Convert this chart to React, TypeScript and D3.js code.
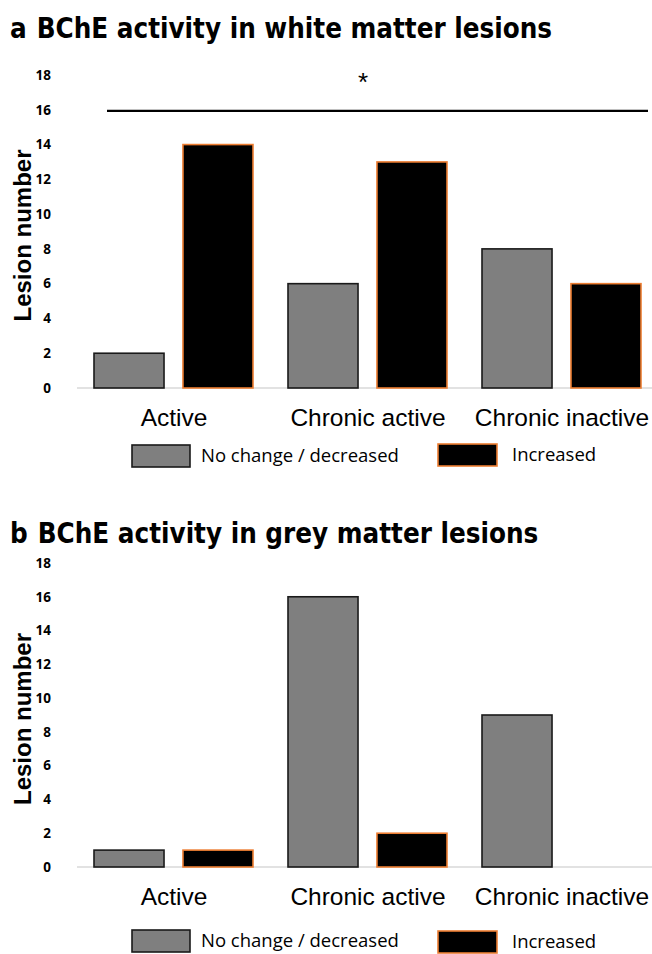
import React from "react";
import * as d3 from "d3";

const categories = ["Active", "Chronic active", "Chronic inactive"];
const seriesNames = ["No change / decreased", "Increased"];
const whiteNoChange = [2, 6, 8];
const whiteIncreased = [14, 13, 6];
const greyNoChange = [1, 16, 9];
const greyIncreased = [1, 2, 0];
const yTicks = [0, 2, 4, 6, 8, 10, 12, 14, 16, 18];

const W = 652;
const H = 954;

const fills = ["#7f7f7f", "#000000"];
const strokes = ["#1a1a1a", "#ed7d31"];

const titleFont = '"Liberation Sans Narrow", "DejaVu Sans Condensed", Arial, sans-serif';
const armFont = '"Liberation Sans", Arial, sans-serif';
const calFont = '"Open Sans", "Noto Sans", sans-serif';

type PanelProps = {
  letter: string;
  title: string;
  titleY: number;
  y0: number;
  y18: number;
  noChange: number[];
  increased: number[];
  legendY: number[];
  showSig?: boolean;
};

function Panel(props: PanelProps) {
  const {letter, title, titleY, y0, y18, noChange, increased, legendY, showSig} = props;

  const x = d3.scaleBand().domain(categories).range([77, 659]);
  const inner = d3.scaleBand().domain(seriesNames).range([17, 176]).paddingInner(0.213);
  const y = d3.scaleLinear().domain([0, 18]).range([y0, y18]);

  const rows = categories.map((c, i) => ({cat: c, vals: [noChange[i], increased[i]]}));

  return (
    <g>
      <text x={10} y={titleY} fontFamily={titleFont} fontWeight="bold" fontSize={27.5} fill="#000">
        {letter}
        <tspan dx={10}>{title}</tspan>
      </text>

      {yTicks.map(t => (
        <text key={t} x={51} y={y(t)} dy="0.35em" textAnchor="end" fontFamily={calFont}
              fontWeight="bold" fontSize={13.5} fill="#000">{t}</text>
      ))}

      <text transform={`translate(31,${(y0 + y18) / 2 + 4}) rotate(-90)`} textAnchor="middle"
            fontFamily={armFont} fontWeight="bold" fontSize={24} fill="#000">Lesion number</text>

      <line x1={77} x2={W} y1={y(0)} y2={y(0)} stroke="#d9d9d9" strokeWidth={1.5} />

      {rows.map(r => (
        <g key={r.cat} transform={`translate(${x(r.cat)},0)`}>
          {r.vals.map((v, j) => v > 0 ? (
            <rect key={j} x={inner(seriesNames[j])} y={y(v)} width={inner.bandwidth()}
                  height={y(0) - y(v)} fill={fills[j]} stroke={strokes[j]} strokeWidth={1.6} />
          ) : null)}
          <text x={x.bandwidth() / 2} y={y(0) + 38} textAnchor="middle" fontFamily={armFont}
                fontSize={24.5} fill="#000">{r.cat}</text>
        </g>
      ))}

      {showSig && (
        <g>
          <line x1={107} x2={648} y1={y(16) + 1} y2={y(16) + 1} stroke="#000" strokeWidth={2.2} />
          <text x={363} y={y(18) + 16} textAnchor="middle" fontFamily={armFont}
                fontSize={26} fill="#000">*</text>
        </g>
      )}

      <rect x={132} y={legendY[0]} width={58} height={22} fill={fills[0]} stroke={strokes[0]} strokeWidth={1.6} />
      <text x={201} y={legendY[0] + 17} fontFamily={calFont} fontSize={18.5} fill="#000">{seriesNames[0]}</text>
      <rect x={438} y={legendY[1]} width={59} height={22} fill={fills[1]} stroke={strokes[1]} strokeWidth={1.6} />
      <text x={512} y={legendY[1] + 17} fontFamily={calFont} fontSize={18.5} fill="#000">{seriesNames[1]}</text>
    </g>
  );
}

export default function App() {
  return (
    <svg width={W} height={H} style={{display: "block", position: "absolute", left: 0, top: 0, background: "#fff"}}>
      <rect width={W} height={H} fill="#fff" />
      <Panel letter="a" title="BChE activity in white matter lesions" titleY={38}
             y0={388} y18={75} noChange={whiteNoChange} increased={whiteIncreased}
             legendY={[445, 444]} showSig />
      <Panel letter="b" title="BChE activity in grey matter lesions" titleY={543}
             y0={867} y18={563} noChange={greyNoChange} increased={greyIncreased}
             legendY={[930, 931]} />
    </svg>
  );
}
